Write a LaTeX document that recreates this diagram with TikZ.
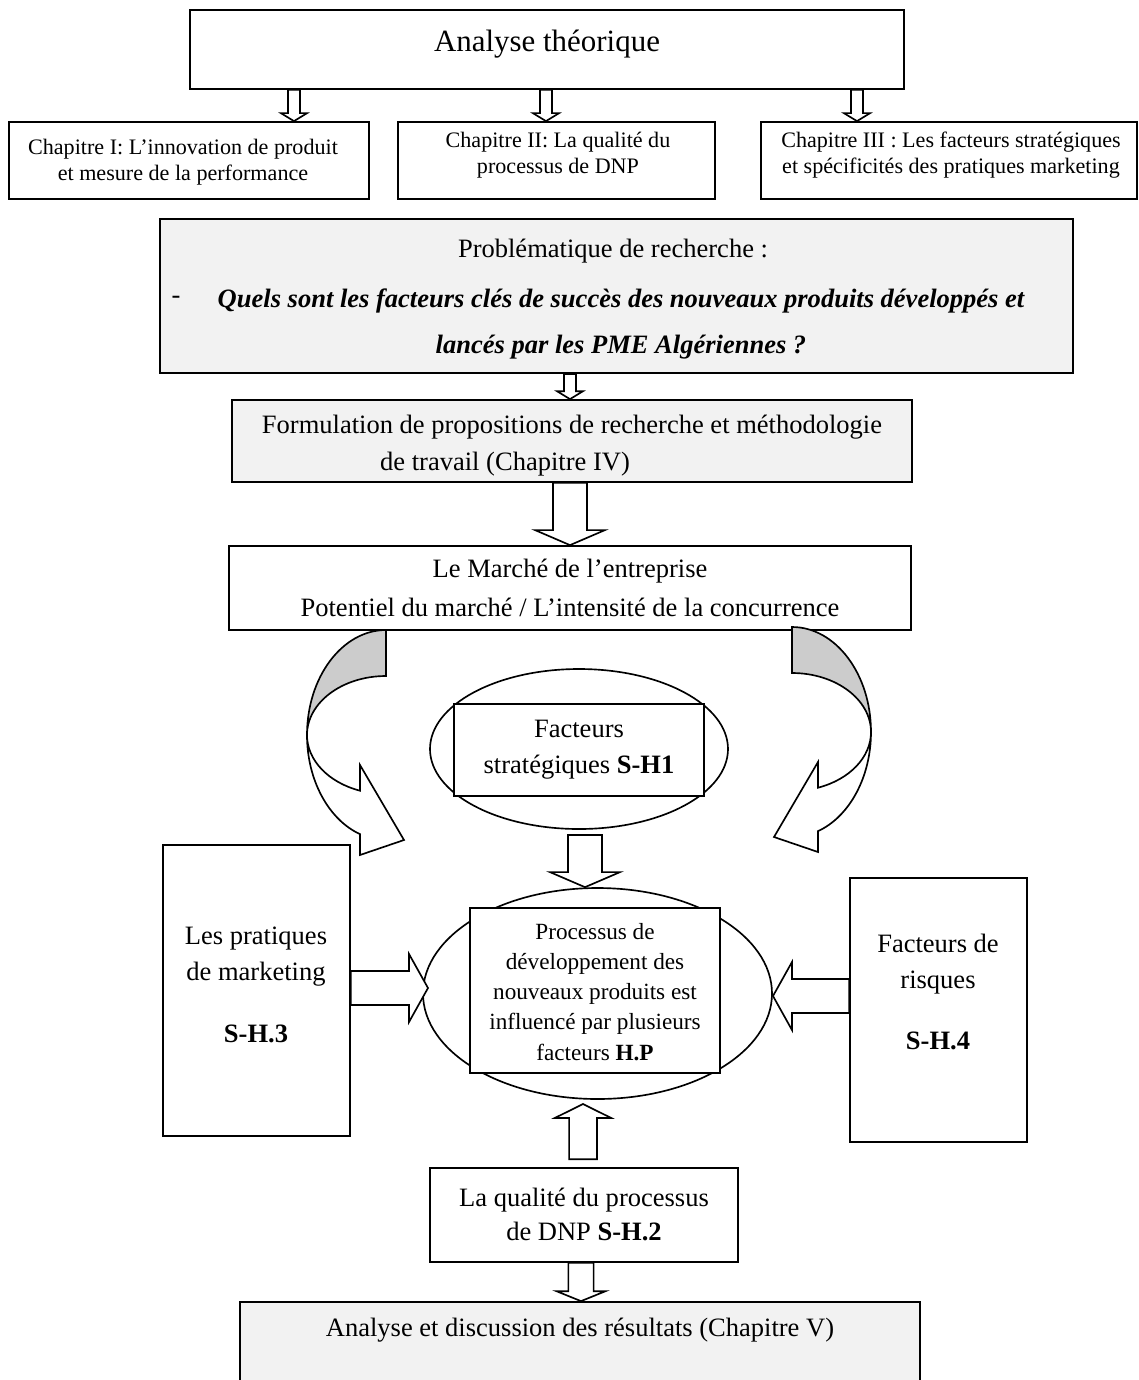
\documentclass[tikz,border=0pt]{standalone}
\usepackage{fontspec}
\setmainfont{Liberation Serif}
\usetikzlibrary{calc,fit,shapes.geometric}
\definecolor{boxfill}{HTML}{F2F2F2}
\definecolor{bandgray}{HTML}{CCCCCC}
\newcommand\pxu{0.4525pt}
\tikzset{
  frame/.style={draw=black, line width=0.8pt, inner sep=0pt, fill=white},
  shaded/.style={frame, fill=boxfill},
  oval/.style={draw=black, line width=0.75pt, ellipse, inner sep=0pt, fill=white},
  txt/.style={font=\fontsize{12}{#1}\selectfont, align=center, inner sep=0pt},
  txt/.default=14pt,
  smalltxt/.style={font=\fontsize{10}{12}\selectfont, align=center, inner sep=0pt},
  % hollow block arrow: half shaft width, half head width, head length
  hollow/.style n args={3}{draw=black, fill=white, line width=0.75pt, line join=miter,
    to path={let \p1=(\tikztostart), \p2=(\tikztotarget), \p3=($(\p2)!#3!(\p1)$) in
      ($(\p1)!#1!90:(\p2)$) -- ($(\p3)!#1!-90:(\p1)$) -- ($(\p3)!#2!-90:(\p1)$) -- (\p2)
      -- ($(\p3)!#2!90:(\p1)$) -- ($(\p3)!#1!90:(\p1)$) -- ($(\p1)!#1!-90:(\p2)$) -- cycle}},
  thinarrow/.style={hollow={2.7pt}{5.9pt}{3.6pt}},
  bigarrow/.style={hollow={7.7pt}{15.8pt}{6.8pt}},
  sidearrow/.style={hollow={7.7pt}{15.4pt}{8.6pt}},
  uparrow/.style={hollow={6.3pt}{12.7pt}{6.3pt}},
  downarrow/.style={hollow={5.7pt}{11.1pt}{4.5pt}},
  % curved band arrow leaving the market box
  bentarrow/.pic={
    \filldraw[fill=bandgray, draw=black, line width=0.75pt]
      (386,630) arc[start angle=270, end angle=180, x radius=79, y radius=105]
      arc[start angle=180, end angle=270, x radius=79, y radius=59] -- cycle;
    \filldraw[fill=white, draw=black, line width=0.75pt, line join=miter]
      (307,735) arc[start angle=180, end angle=109.2, x radius=79, y radius=105]
      -- (360,855) -- (404,840) -- (360,765) -- (360,790.7)
      arc[start angle=109.2, end angle=180, x radius=79, y radius=59] -- cycle;
  }
}
\begin{document}
\begin{tikzpicture}[x=\pxu, y=-\pxu]
\fill[white] (0,0) rectangle (1139,1380);
\useasboundingbox (0,0) rectangle (1139,1380);
\clip (0,0) rectangle (1139,1380);

% theoretical part
\node[frame, fit={(190,10) (904,89)}] (title) {};
\node[font=\fontsize{14}{16}\selectfont, inner sep=0pt] (title-t) at (547,44) {Analyse théorique};

\node[frame, fit={(9,122) (369,199)}] (ch1) {};
\node[smalltxt] (ch1-t) at (183,162) {Chapitre I: L'innovation de produit\\et mesure de la performance};
\node[frame, fit={(398,122) (715,199)}] (ch2) {};
\node[smalltxt] (ch2-t) at (558,155) {Chapitre II: La qualité du\\processus de DNP};
\node[frame, fit={(761,122) (1137,199)}] (ch3) {};
\node[smalltxt] (ch3-t) at (951,155) {Chapitre III : Les facteurs stratégiques\\et spécificités des pratiques marketing};

\coordinate (ax1) at (294,0);
\coordinate (ax2) at (546,0);
\coordinate (ax3) at (857,0);
\draw[thinarrow] (title.south -| ax1) to (ch1.north -| ax1);
\draw[thinarrow] (title.south -| ax2) to (ch2.north -| ax2);
\draw[thinarrow] (title.south -| ax3) to (ch3.north -| ax3);

% research question
\node[shaded, line width=1pt, fit={(160,219) (1073,373)}] (prob) {};
\node[txt] (prob-h) at (613,251) {Problématique de recherche :};
\node[txt] (prob-dash) at (176,300) {-};
\node[font=\fontsize{12}{21}\selectfont\bfseries\itshape, align=center, inner sep=0pt] (prob-q) at (621,324)
  {Quels sont les facteurs clés de succès des nouveaux produits développés et\\lancés par les PME Algériennes ?};

\node[shaded, fit={(232,400) (912,482)}] (form) {};
\node[txt] (form-t1) at (572,427) {Formulation de propositions de recherche et méthodologie};
\node[txt] (form-t2) at (505,464) {de travail (Chapitre IV)};

\coordinate (ax4) at (570,0);
\draw[thinarrow] (prob.south -| ax4) to (form.north -| ax4);

\node[frame, fit={(229,546) (911,630)}] (market) {};
\node[txt=18pt] (market-t) at (570,588) {Le Marché de l'entreprise\\Potentiel du marché / L'intensité de la concurrence};
\draw[bigarrow] (form.south -| ax4) to (market.north -| ax4);

% curved arrows from the market box
\pic at (0,0) {bentarrow};
\pic[xscale=-1] at (1178,-3) {bentarrow};

% strategic factors
\node[oval, minimum width={298*\pxu}, minimum height={160*\pxu}] (fs-ov) at (579,749) {};
\node[frame, fit={(454,704) (704,796)}] (fs) {};
\node[txt=16.3pt] (fs-t) at (579,750) {Facteurs\\stratégiques \textbf{S-H1}};

% NPD process
\node[oval, minimum width={349*\pxu}, minimum height={211*\pxu}] (np-ov) at (597.5,993.5) {};
\node[frame, fit={(470,908) (720,1073)}] (np) {};
\node[font=\fontsize{10.5}{13.6}\selectfont, align=center, inner sep=0pt] (np-t) at (595,992)
  {Processus de\\développement des\\nouveaux produits est\\influencé par plusieurs\\facteurs \textbf{H.P}};

\coordinate (ax5) at (585,0);
\draw[bigarrow] ([yshift=-2.3pt]fs-ov.south -| ax5) to (np-ov.north -| ax5);

% marketing practices and risk factors
\node[frame, fit={(163,845) (350,1136)}] (mk) {};
\node[txt=16.3pt] (mk-t) at (256,985) {Les pratiques\\de marketing\\[11.7pt]\textbf{S-H.3}};
\node[frame, fit={(850,878) (1027,1142)}] (rk) {};
\node[txt=16.3pt] (rk-t) at (938,992) {Facteurs de\\risques\\[11.7pt]\textbf{S-H.4}};

\coordinate (ltip) at (428,988);
\coordinate (rtip) at (773,996);
\draw[sidearrow] (mk.east |- ltip) to (ltip);
\draw[sidearrow] (rk.west |- rtip) to (rtip);

% process quality
\node[frame, fit={(430,1168) (738,1262)}] (qual) {};
\node[txt=15.4pt] (qual-t) at (584,1214) {La qualité du processus\\de DNP \textbf{S-H.2}};
\coordinate (utip) at (583,1104);
\draw[uparrow] ([yshift=3.6pt]qual.north -| utip) to (utip);

% results
\node[shaded, fit={(240,1302) (920,1420)}] (res) {};
\node[txt] (res-t) at (580,1330) {Analyse et discussion des résultats (Chapitre V)};
\coordinate (ax6) at (581,0);
\draw[downarrow] (qual.south -| ax6) to (res.north -| ax6);
\end{tikzpicture}
\end{document}
